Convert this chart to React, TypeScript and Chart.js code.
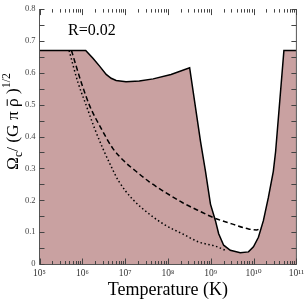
import React, { useEffect, useRef } from "react";
import { Chart, registerables } from "chart.js";

Chart.register(...registerables);

// ---- data ----
const X_MIN = 1e5;
const X_MAX = 1e11;
const Y_MIN = 0;
const Y_MAX = 0.8;
const decadeExponents = [5, 6, 7, 8, 9, 10, 11];
const yLabelStep = 0.1;
const yTickMarkStep = 0.05;

// boundary of the shaded (allowed) region
const boundaryT = [
  1e5, 1.2e6, 1.77e6, 2.53e6, 3.61e6, 4.72e6, 6.17e6, 1.05e7, 2.14e7, 4.52e7,
  1.18e8, 3.21e8, 5.77e8, 7.53e8, 9.84e8, 1.285e9, 1.53e9, 2.0e9, 2.86e9,
  4.88e9, 7.6e9, 9.93e9, 1.297e10, 1.694e10, 2.21e10, 2.89e10, 3.27e10,
  5.11e10, 1e11,
];
const boundaryOmega = [
  0.67, 0.67, 0.646, 0.621, 0.595, 0.583, 0.576, 0.572, 0.574, 0.581,
  0.595, 0.616, 0.384, 0.291, 0.188, 0.136, 0.095, 0.059, 0.043,
  0.035, 0.038, 0.054, 0.084, 0.136, 0.208, 0.291, 0.353,
  0.67, 0.67,
];

// dashed curve
const dashedT = [
  5.58e5, 9.5e5, 1.48e6, 2.77e6, 5.14e6, 9.6e6, 1.79e7, 3.65e7, 8.89e7,
  2.16e8, 5.26e8, 1.285e9, 3.11e9, 7.6e9, 1.18e10, 1.545e10,
];
const dashedOmega = [
  0.67, 0.569, 0.497, 0.425, 0.363, 0.322, 0.291, 0.258, 0.224,
  0.193, 0.167, 0.143, 0.126, 0.11, 0.107, 0.115,
];

// dotted curve
const dottedT = [
  4.91e5, 7.94e5, 1.24e6, 1.94e6, 3.01e6, 4.72e6, 7.08e6, 1.5e7, 3.65e7,
  8.89e7, 2.16e8, 5.26e8, 1.285e9, 2.19e9,
];
const dottedOmega = [
  0.67, 0.569, 0.497, 0.425, 0.363, 0.306, 0.26, 0.203, 0.157,
  0.121, 0.095, 0.069, 0.056, 0.043,
];

const annotationText = "R=0.02";
const xTitle = "Temperature (K)";

const FILL_COLOR = "rgb(201,161,161)";
const SERIF = '"Liberation Serif", "Times New Roman", "DejaVu Serif", serif';
const SUP: Record<string, string> = {
  "0": "⁰", "1": "¹", "2": "²", "3": "³", "4": "⁴",
  "5": "⁵", "6": "⁶", "7": "⁷", "8": "⁸", "9": "⁹",
};

const toPoints = (xs: number[], ys: number[]) =>
  xs.map((x, i) => ({ x, y: ys[i] }));

const decorPlugin = {
  id: "decor",
  afterDatasetsDraw(chart: any) {
    const { ctx, chartArea: a, scales } = chart;
    const xs = scales.x;
    const ys = scales.y;
    const L = a.left;
    const R = a.right;
    const B = Math.round(a.bottom) + 0.5;
    const T = a.top;
    ctx.save();
    // frame (left, bottom, right)
    ctx.strokeStyle = "#555";
    ctx.lineWidth = 1;
    ctx.beginPath();
    ctx.moveTo(L, T);
    ctx.lineTo(L, B);
    ctx.lineTo(R, B);
    ctx.lineTo(R, T);
    ctx.stroke();

    // y tick marks (both sides, inward)
    ctx.strokeStyle = "#444";
    const nY = Math.round((Y_MAX - Y_MIN) / yTickMarkStep);
    for (let i = 0; i <= nY; i++) {
      const v = Y_MIN + i * yTickMarkStep;
      const py = Math.round(ys.getPixelForValue(v)) + 0.5;
      ctx.beginPath();
      ctx.moveTo(L, py);
      ctx.lineTo(L + 5, py);
      ctx.moveTo(R, py);
      ctx.lineTo(R - 5, py);
      ctx.stroke();
    }
    // x tick marks (bottom and top, inward)
    for (let e = decadeExponents[0]; e <= decadeExponents[decadeExponents.length - 1]; e++) {
      for (let m = 1; m <= 9; m++) {
        const v = m * Math.pow(10, e);
        if (v > X_MAX * 1.0001) break;
        const px = Math.round(xs.getPixelForValue(v)) + 0.5;
        const len = m === 1 ? 6 : 3.5;
        ctx.beginPath();
        ctx.moveTo(px, B);
        ctx.lineTo(px, B - len);
        ctx.moveTo(px, T);
        ctx.lineTo(px, T + len);
        ctx.stroke();
      }
    }

    // annotation
    ctx.fillStyle = "#000";
    ctx.font = `16px ${SERIF}`;
    ctx.textAlign = "left";
    ctx.textBaseline = "alphabetic";
    ctx.fillText(annotationText, 68, 35);

    // x title
    ctx.font = `18px ${SERIF}`;
    ctx.textAlign = "center";
    ctx.fillText(xTitle, (L + R) / 2, 295);

    // y title (rotated, with sub/superscripts), scaled to the reference length
    const pieces = [
      { t: "Ω", rel: 1, dy: 0, bar: false },
      { t: "c", rel: 0.68, dy: 0.22, bar: false },
      { t: "/ (G π ", rel: 1, dy: 0, bar: false },
      { t: "ρ", rel: 1, dy: 0, bar: true },
      { t: " )", rel: 1, dy: 0, bar: false },
      { t: "1/2", rel: 0.68, dy: -0.45, bar: false },
    ];
    ctx.textAlign = "left";
    const measure = (base: number) => {
      let total = 0;
      const widths = pieces.map((p) => {
        ctx.font = `${base * p.rel}px ${SERIF}`;
        const w = ctx.measureText(p.t).width;
        total += w;
        return w;
      });
      return { total, widths };
    };
    const first = measure(18);
    const base = Math.min(18, 18 * (97 / first.total));
    const { total, widths } = measure(base);
    ctx.translate(18, 121.5);
    ctx.rotate(-Math.PI / 2);
    let cx = -total / 2;
    pieces.forEach((p, i) => {
      ctx.font = `${base * p.rel}px ${SERIF}`;
      ctx.fillText(p.t, cx, p.dy * base);
      if (p.bar) {
        ctx.beginPath();
        ctx.strokeStyle = "#000";
        ctx.lineWidth = 1;
        ctx.moveTo(cx + 1, -0.62 * base);
        ctx.lineTo(cx + widths[i] - 1, -0.62 * base);
        ctx.stroke();
      }
      cx += widths[i];
    });
    ctx.restore();
  },
};

export default function App() {
  const canvasRef = useRef<HTMLCanvasElement | null>(null);

  useEffect(() => {
    if (!canvasRef.current) return;
    const chart = new Chart(canvasRef.current, {
      type: "line",
      data: {
        datasets: [
          {
            label: "dashed",
            data: toPoints(dashedT, dashedOmega),
            borderColor: "#000",
            borderWidth: 1.5,
            borderDash: [5, 3],
            fill: false,
            pointRadius: 0,
            cubicInterpolationMode: "monotone",
            order: 1,
          },
          {
            label: "dotted",
            data: toPoints(dottedT, dottedOmega),
            borderColor: "#000",
            borderWidth: 1.5,
            borderDash: [1.5, 2.5],
            fill: false,
            pointRadius: 0,
            cubicInterpolationMode: "monotone",
            order: 2,
          },
          {
            label: "boundary",
            data: toPoints(boundaryT, boundaryOmega),
            borderColor: "#000",
            borderWidth: 1.5,
            backgroundColor: FILL_COLOR,
            fill: "origin",
            pointRadius: 0,
            tension: 0,
            order: 3,
          },
        ],
      },
      options: {
        animation: false,
        responsive: false,
        devicePixelRatio: 1,
        layout: { padding: { left: 8, right: 9.7, top: 5.4, bottom: 0 } },
        plugins: {
          legend: { display: false },
          tooltip: { enabled: false },
        },
        scales: {
          x: {
            type: "logarithmic",
            min: X_MIN,
            max: X_MAX,
            grid: { display: false, drawTicks: false },
            border: { display: false },
            afterBuildTicks: (scale: any) => {
              scale.ticks = decadeExponents.map((e) => ({ value: Math.pow(10, e) }));
            },
            afterFit: (scale: any) => {
              scale.height = 36;
            },
            ticks: {
              autoSkip: false,
              maxRotation: 0,
              padding: 4,
              color: "#333",
              font: { family: SERIF, size: 9.5 },
              callback: (value: any) => {
                const e = Math.round(Math.log10(Number(value)));
                return "10" + String(e).split("").map((c) => SUP[c]).join("");
              },
            },
          },
          y: {
            type: "linear",
            min: Y_MIN,
            max: Y_MAX,
            grid: { display: false, drawTicks: false },
            border: { display: false },
            afterFit: (scale: any) => {
              scale.width = 31.5;
            },
            ticks: {
              stepSize: yLabelStep,
              padding: 4,
              color: "#444",
              font: { family: SERIF, size: 8.5 },
              callback: (value: any) => {
                const v = Number(value);
                return Math.abs(v) < 1e-9 ? "0" : v.toFixed(1);
              },
            },
          },
        },
      },
      plugins: [decorPlugin],
    } as any);
    return () => chart.destroy();
  }, []);

  return (
    <div style={{ position: "fixed", left: 0, top: 0, width: 308, height: 300, background: "#fff" }}>
      <canvas ref={canvasRef} width={308} height={300} />
    </div>
  );
}
